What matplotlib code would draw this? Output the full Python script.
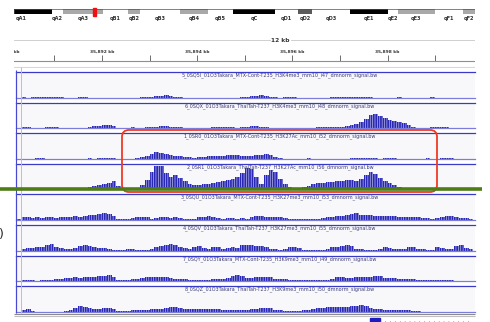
import numpy as np
import matplotlib
matplotlib.use('Agg')
from matplotlib import pyplot as plt
from matplotlib.patches import FancyBboxPatch, Rectangle

# IGV view: chr (mm10), about 35,890.2 - 35,899.8 kb, 0.1 kb bins
bin_start_kb = 35890.2
bin_kb = 0.1

track_names = [
    '5_0SQ5I_01O3Takara_MTX-Cont-T235_H3K4me3_mm10_i47_dmnorm_signal.bw',
    '6_0SQX_01O3Takara_ThalTah-T237_H3K4me3_mm10_i48_dmnorm_signal.bw',
    '1_0SR0_01O3Takara_MTX-Cont-T235_H3K27Ac_mm10_i52_dmnorm_signal.bw',
    '2_0SR1_01O3Takara_ThalTah-T237_H3K27Ac_mm10_i56_dmnorm_signal.bw',
    '3_0SQU_01O3Takara_MTX-Cont-T235_H3K27me3_mm10_i53_dmnorm_signal.bw',
    '4_0SQV_01O3Takara_ThalTah-T237_H3K27me3_mm10_i55_dmnorm_signal.bw',
    '7_0SQY_01O3Takara_MTX-Cont-T235_H3K9me3_mm10_i49_dmnorm_signal.bw',
    '8_0SQZ_01O3Takara_ThalTah-T237_H3K9me3_mm10_i50_dmnorm_signal.bw',
]

sig_k4_mtx = [0, 0.5, 0, 0.5, 0.5, 0.5, 0.5, 0.5, 0.5, 0.5,
              0, 0, 0, 0.5, 0.5, 0, 0, 0, 0, 0,
              0, 0, 0, 0, 0, 0, 0.5, 1, 1, 1.5,
              2, 2.5, 2, 1, 0.5, 0, 0, 0, 0, 0,
              0, 0, 0, 0, 0, 0, 0, 0.5, 1, 1.5,
              2, 2.5, 2, 1, 0.5, 0, 0.5, 0.5, 0.5, 0,
              0, 0, 0, 0, 0, 0, 0.5, 1, 1, 1,
              1, 1, 1, 0.5, 0.5, 0, 0, 0, 0, 0,
              0.5, 0, 0, 0, 0, 0, 0, 0.5, 0, 0,
              0, 0, 0, 0, 0, 0]
sig_k4_thal = [0, 1, 1, 0.5, 0, 0.5, 1, 1, 1, 0.5,
               0.5, 0, 0.5, 0, 0.5, 1, 2, 2, 3, 3,
               2, 0, 0.5, 0.5, 1, 0.5, 0, 1, 1, 1.5,
               2, 2, 1.5, 1, 1, 0, 0, 0.5, 0, 0,
               0.5, 1, 1, 1.5, 1, 1, 0.5, 1, 1.5, 2,
               2, 1.5, 1, 0.5, 0, 0.5, 0.5, 0, 0.5, 0.5,
               0, 0, 0.5, 1, 1, 1, 1, 1, 1.5, 2,
               3, 4, 6, 9, 13, 14, 12, 10, 8, 7,
               6, 5, 3, 1, 0.5, 0.5, 0, 1, 1, 1,
               1, 0.5, 0, 0, 0, 0]
sig_k27ac_mtx = [0, 0, 0, 0, 0.5, 0.5, 0, 0, 0, 0,
                 0, 0, 0, 0, 0, 0.5, 0, 0.5, 0.5, 0.5,
                 0.5, 0, 0, 0, 0, 1, 2, 3, 5, 7,
                 6, 5, 4, 3, 3, 2, 2, 1, 2, 2,
                 3, 3, 3, 3, 4, 4, 4, 3, 3, 3,
                 4, 4, 5, 4, 2, 1, 0, 0, 0, 0,
                 0, 0.5, 0, 0, 0, 0, 0, 0, 0, 0,
                 1, 1, 1, 1, 1, 1, 0, 1, 1, 1,
                 0, 0, 0, 0, 0, 0, 0.5, 0, 0, 1,
                 1, 1, 0, 0, 0, 0]
sig_k27ac_thal = [0, 0, 0, 0, 0, 0, 0, 0, 0, 0,
                  0, 0, 0, 0, 1, 2, 3, 4, 5, 6,
                  8, 3, 0, 0, 0, 1, 4, 9, 17, 23,
                  23, 16, 12, 14, 11, 8, 5, 4, 4, 5,
                  5, 6, 7, 8, 9, 10, 12, 16, 21, 20,
                  12, 5, 14, 19, 17, 10, 5, 2, 1, 1,
                  2, 3, 5, 6, 6, 7, 7, 8, 8, 9,
                  9, 8, 10, 14, 17, 15, 11, 8, 6, 4,
                  2, 1, 1, 0, 0, 0, 0, 0, 0, 0,
                  0, 0, 0, 0, 0, 0]
sig_k27me3_mtx = [0.5, 3, 2.5, 2, 2.5, 2, 2.5, 2.5, 2, 2.5,
                  2.5, 3, 3.5, 3, 3.5, 4.5, 4.5, 5.5, 6.5, 5.5,
                  3.5, 1, 0.5, 0.5, 2, 3, 2.5, 2.5, 1, 2,
                  2.5, 2.5, 2, 2.5, 2, 0.5, 0.5, 1, 2.5, 3,
                  3.5, 2.5, 2, 1, 2, 2, 1, 2, 1, 2.5,
                  3.5, 4, 3, 2.5, 3, 2.5, 2, 0.5, 0.5, 0.5,
                  1, 1, 1, 1, 2, 2.5, 2.5, 3.5, 3.5, 5,
                  6, 6.5, 5, 5, 5, 4, 4, 3.5, 3.5, 3.5,
                  3, 2.5, 2.5, 3, 2.5, 2, 2, 1, 2, 2.5,
                  3.5, 3.5, 2.5, 2, 2, 1]
sig_k27me3_thal = [0, 2, 3, 3, 4, 4, 6, 7, 4, 3,
                   2, 2, 3, 5, 6, 5, 4, 3, 3, 2,
                   1, 1, 1, 2, 2, 1, 1, 1, 2, 4,
                   5, 6, 7, 6, 4, 3, 2, 4, 5, 3,
                   2, 4, 4, 2, 3, 4, 3, 6, 6, 6,
                   5, 5, 4, 2, 2, 1, 2, 4, 4, 3,
                   1, 1, 1, 1, 1, 2, 4, 4, 5, 6,
                   5, 2, 2, 1, 1, 1, 2, 4, 3, 2,
                   2, 2, 4, 4, 2, 2, 1, 1, 4, 3,
                   2, 2, 5, 6, 3, 2]
sig_k9me3_mtx = [0, 1, 1, 1, 0, 1, 1, 1, 2, 2,
                 3, 3, 4, 3, 4, 4, 4, 5, 5, 6,
                 4, 1, 1, 1, 2, 2, 3, 4, 4, 4,
                 4, 4, 3, 2, 2, 2, 1, 1, 1, 1,
                 1, 2, 2, 2, 3, 5, 6, 5, 3, 3,
                 4, 4, 4, 4, 2, 2, 2, 1, 1, 1,
                 1, 1, 1, 1, 1, 1, 2, 4, 4, 3,
                 3, 4, 4, 4, 4, 5, 5, 3, 3, 3,
                 2, 2, 2, 2, 1, 1, 1, 1, 1, 1,
                 1, 1, 0, 0, 0, 0]
sig_k9me3_thal = [0, 2, 3, 1, 0, 0, 0, 0, 0, 0,
                  1, 2, 4, 6, 5, 4, 3, 3, 4, 4,
                  3, 1, 1, 1, 2, 2, 2, 2, 3, 3,
                  3, 4, 5, 5, 4, 3, 3, 3, 3, 3,
                  3, 3, 3, 2, 2, 2, 2, 2, 2, 3,
                  3, 4, 4, 4, 2, 2, 1, 1, 1, 1,
                  2, 2, 3, 4, 4, 5, 5, 5, 5, 5,
                  6, 6, 7, 6, 4, 3, 3, 2, 2, 2,
                  2, 2, 2, 1, 1, 0, 0, 0, 0, 0,
                  0, 0, 0, 0, 0, 0]
signals = [sig_k4_mtx, sig_k4_thal, sig_k27ac_mtx, sig_k27ac_thal,
           sig_k27me3_mtx, sig_k27me3_thal, sig_k9me3_mtx, sig_k9me3_thal]

# cytobands of the chromosome (fraction of ideogram width)
band_names = ['qA1', 'qA2', 'qA3', 'qB1', 'qB2', 'qB3', 'qB4', 'qB5', 'qC',
              'qD1', 'qD2', 'qD3', 'qE1', 'qE2', 'qE3', 'qF1', 'qF2']
band_edges = [-0.052, 0.082, 0.106, 0.193, 0.247, 0.273, 0.360, 0.421, 0.475,
              0.566, 0.616, 0.646, 0.729, 0.811, 0.833, 0.913, 0.974, 1.0]
band_stain = ['gpos100', 'gneg', 'gpos33', 'gneg', 'gpos33', 'gneg', 'gpos33', 'gneg', 'gpos100',
              'gneg', 'gpos66', 'gneg', 'gpos100', 'gneg', 'gpos33', 'gneg', 'gpos33']
view_band = (0.171, 0.178)

W, H = 490, 322
PX_PER_KB = 47.6
X_AT_35892 = 102.0

def kb(x):
    return 35892 + (x - X_AT_35892) / PX_PER_KB

fig = plt.figure(figsize=(W / 100, H / 100), dpi=100)
fig.patch.set_facecolor('white')

def box(x0, y0, x1, y1, z=1):
    return fig.add_axes([x0 / W, 1 - y1 / H, (x1 - x0) / W, (y1 - y0) / H], zorder=z)

plt.rcParams['hatch.linewidth'] = 0.45

# ideogram
ax = box(14, 9, 475, 14)
stain_col = {'gneg': 'white', 'gpos33': '#a8a8a8', 'gpos66': '#5a5a5a', 'gpos100': 'black'}
ax.bar(band_edges[:-1], 1, width=np.diff(band_edges), align='edge',
       color=[stain_col[s] for s in band_stain], edgecolor='none')
ax.set_xlim(0, 1)
ax.set_ylim(0, 1)
ax.axis('off')
ax.add_patch(Rectangle((0, 0), 1, 1, fill=False, edgecolor='#505050', lw=0.5))
for i, name in enumerate(band_names):
    c = (band_edges[i] + band_edges[i + 1]) / 2
    ax.text(c, -0.95, name, ha='center', va='center', fontsize=3.6,
            fontweight='bold', color='#303030', clip_on=False)
ax.add_patch(Rectangle((view_band[0], -0.3), view_band[1] - view_band[0], 1.6,
                       color='#ee1111', clip_on=False, zorder=5))

# ruler
ax = box(14, 34, 475, 68)
ax.set_xlim(kb(14), kb(475))
ax.set_ylim(68, 34)
ax.axis('off')
tr = ax.get_yaxis_transform()
ax.plot([0, 0.555], [40.5, 40.5], color='#c8c8c8', lw=0.6, transform=tr)
ax.plot([0.6, 1], [40.5, 40.5], color='#c8c8c8', lw=0.6, transform=tr)
ax.text(0.577, 40.5, '12 kb', transform=tr, ha='center', va='center',
        fontsize=4.2, fontweight='bold', color='#333333')
ticks = np.arange(35890, 35900)
ax.vlines(ticks, 55.5, 61, color='#555555', lw=0.6)
for t in ticks[::2]:
    ax.text(t, 51.5, f'{t:,} kb', ha='center', va='center', fontsize=3.2,
            fontweight='bold', color='#333333', clip_on=True)
ax.axhline(61, color='#909090', lw=0.8)
ax.axhline(67, color='#d8d8d8', lw=0.8)

# data tracks
centers = bin_start_kb + bin_kb / 2 + bin_kb * np.arange(len(sig_k4_mtx))
for k, (name, vals) in enumerate(zip(track_names, signals)):
    top = 72 + 30.6 * k
    base = top + 25.5
    ax = box(16, top, 475, base)
    ax.set_facecolor('#f8f8fa')
    ax.bar(centers, vals, width=bin_kb, color='#2828b4', edgecolor='#c8c8f0',
           linewidth=0, hatch='|' * 7)
    ax.set_xlim(kb(16), kb(475))
    ax.set_ylim(0, 25.5)
    ax.set_xticks([])
    ax.set_yticks([])
    ax.spines['right'].set_visible(False)
    ax.spines['top'].set_color('#3a3ac8')
    ax.spines['top'].set_linewidth(0.9)
    ax.spines['bottom'].set_color('#7c7cdc')
    ax.spines['bottom'].set_linewidth(0.9)
    ax.spines['left'].set_color('#4848d0')
    ax.spines['left'].set_linewidth(0.8)
    ax.text(0.575, 22.3, name, transform=ax.get_yaxis_transform(), ha='center',
            va='center', fontsize=3.5, color='#3a3a7a')

# overlay: highlights and frame bits
top_ax = fig.add_axes([0, 0, 1, 1], zorder=20)
top_ax.set_xlim(0, W)
top_ax.set_ylim(H, 0)
top_ax.axis('off')
top_ax.patch.set_alpha(0)
top_ax.vlines(16, 70, 313, color='#4848d0', lw=0.8)
top_ax.vlines(21, 67, 313, color='#f2a8a8', lw=0.7)
top_ax.add_patch(FancyBboxPatch((122, 130), 315, 62,
                                boxstyle='round,pad=0,rounding_size=7',
                                fill=False, edgecolor='#f03a22', lw=1.3))
top_ax.hlines(189.3, 0, 482, color='#4e7d16', lw=2.6)
top_ax.hlines([313.5, 316], 14, 475, color=['#8a8a8a', '#c0c0c0'], lw=0.8)
top_ax.add_patch(Rectangle((370, 317.5), 10, 5, color='#1c1cc0'))
top_ax.hlines(320.5, 380, 470, color='#6a6a9a', lw=0.5, linestyles=(0, (1, 6)))
top_ax.text(-1.5, 234, ')', fontsize=9, color='#222222', va='center', ha='left')

plt.savefig('out.png', dpi=100)
